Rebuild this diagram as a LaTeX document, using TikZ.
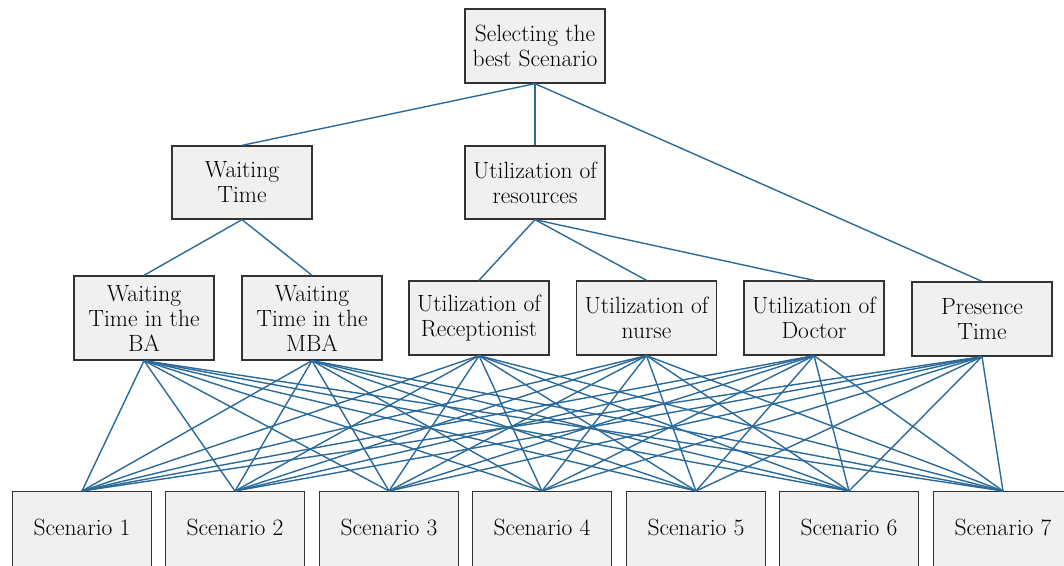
\documentclass[tikz,border=0pt]{standalone}
\definecolor{boxfill}{HTML}{F0F0F0}
\definecolor{boxline}{HTML}{333333}
\definecolor{edgeblue}{HTML}{2A6A9A}
\begin{document}
\begin{tikzpicture}[x=1pt,y=-1pt,
  box/.style={draw=boxline, fill=boxfill, line width=1.3pt, align=center, inner sep=0pt,
    minimum width=140pt, font=\rmfamily\fontsize{23.5}{25}\selectfont},
  scen/.style={box, minimum width=139pt, minimum height=92pt, anchor=north, text depth=21pt},
  edge/.style={draw=edgeblue, line width=1.4pt}]
\useasboundingbox (0,0) rectangle (1064,565);
\clip (0,0) rectangle (1064,565);
% nodes
\node[box, minimum height=74pt] (top) at (535,46) {Selecting the\\best Scenario};
\node[box, minimum height=73pt] (wt) at (242,182.5) {Waiting\\Time};
\node[box, minimum height=73pt] (ur) at (535,182.5) {Utilization of\\resources};
\node[box, minimum height=84pt] (ba) at (144,318) {Waiting\\Time in the\\BA};
\node[box, minimum height=84pt] (mba) at (312,318) {Waiting\\Time in the\\MBA};
\node[box, minimum height=74pt] (rec) at (479,318) {Utilization of\\Receptionist};
\node[box, minimum height=74pt] (nur) at (646.5,318) {Utilization of\\nurse};
\node[box, minimum height=74pt] (doc) at (814,318) {Utilization of\\Doctor};
\node[box, minimum height=74pt] (pre) at (982,319) {Presence\\Time};
\foreach \i/\x in {1/82,2/235,3/389,4/542,5/696,6/849,7/1003}
  \node[scen] (s\i) at (\x,491) {Scenario \i};
% edges
\draw[edge] (top.south) -- (wt.north);
\draw[edge] (top.south) -- (ur.north);
\draw[edge] (top.south) -- (pre.north);
\draw[edge] (wt.south) -- (ba.north);
\draw[edge] (wt.south) -- (mba.north);
\draw[edge] (ur.south) -- (rec.north);
\draw[edge] (ur.south) -- (nur.north);
\draw[edge] (ur.south) -- (doc.north);
\foreach \a in {ba,mba,rec,nur,doc,pre}
  \foreach \i in {1,...,7}
    \draw[edge] (\a.south) -- (s\i.north);
\end{tikzpicture}
\end{document}
